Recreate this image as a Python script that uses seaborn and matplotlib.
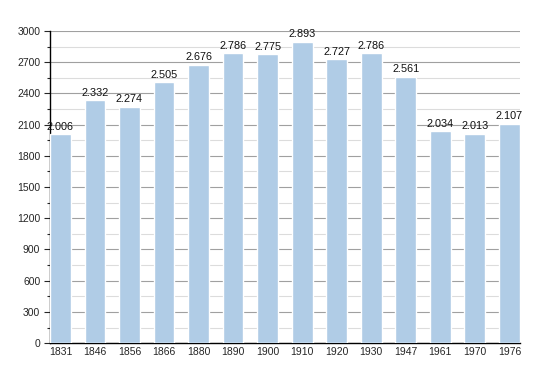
import numpy as np
import pandas as pd
import matplotlib
matplotlib.use("Agg")
import matplotlib.pyplot as plt
from matplotlib.ticker import MultipleLocator
import seaborn as sns

# data
years = ["1831", "1846", "1856", "1866", "1880", "1890", "1900",
         "1910", "1920", "1930", "1947", "1961", "1970", "1976"]
population = [2006, 2332, 2274, 2505, 2676, 2786, 2775,
              2893, 2727, 2786, 2561, 2034, 2013, 2107]

df = pd.DataFrame({"year": years, "pop": population})

sns.set_style("white")
plt.rcParams["font.family"] = ["Liberation Sans", "DejaVu Sans"]

fig = plt.figure(figsize=(5.5, 3.73), dpi=100)
ax = fig.add_axes([0.091, 0.080, 0.854, 0.837])

sns.barplot(data=df, x="year", y="pop", color="#b0cce6", saturation=1,
            width=0.6, ax=ax, zorder=3)

ax.set_ylim(0, 3000)
ax.set_xlim(-0.3, len(years) - 0.7)
ax.yaxis.set_major_locator(MultipleLocator(300))
ax.yaxis.set_minor_locator(MultipleLocator(150))
ax.grid(axis="y", which="major", color="#a0a0a0", linewidth=0.8, zorder=0)
ax.grid(axis="y", which="minor", color="#dcdcdc", linewidth=0.8, zorder=0)
ax.set_axisbelow(True)

for s in ["top", "right"]:
    ax.spines[s].set_visible(False)
ax.spines["left"].set_color("black")
ax.spines["bottom"].set_color("black")
ax.spines["left"].set_linewidth(1.0)
ax.spines["bottom"].set_linewidth(1.0)

ax.tick_params(axis="y", which="major", length=4, width=0.8, labelsize=7.5, pad=3, left=True)
ax.tick_params(axis="y", which="minor", length=2, width=0.8, left=True)
ax.tick_params(axis="x", length=0, labelsize=7.5, pad=3)
ax.set_xlabel("")
ax.set_ylabel("")

for i, v in enumerate(population):
    ax.text(i, v + 25, f"{v:,}".replace(",", "."), ha="center", va="bottom",
            fontsize=7.8, color="#111111")

fig.savefig("out.png", dpi=100)
